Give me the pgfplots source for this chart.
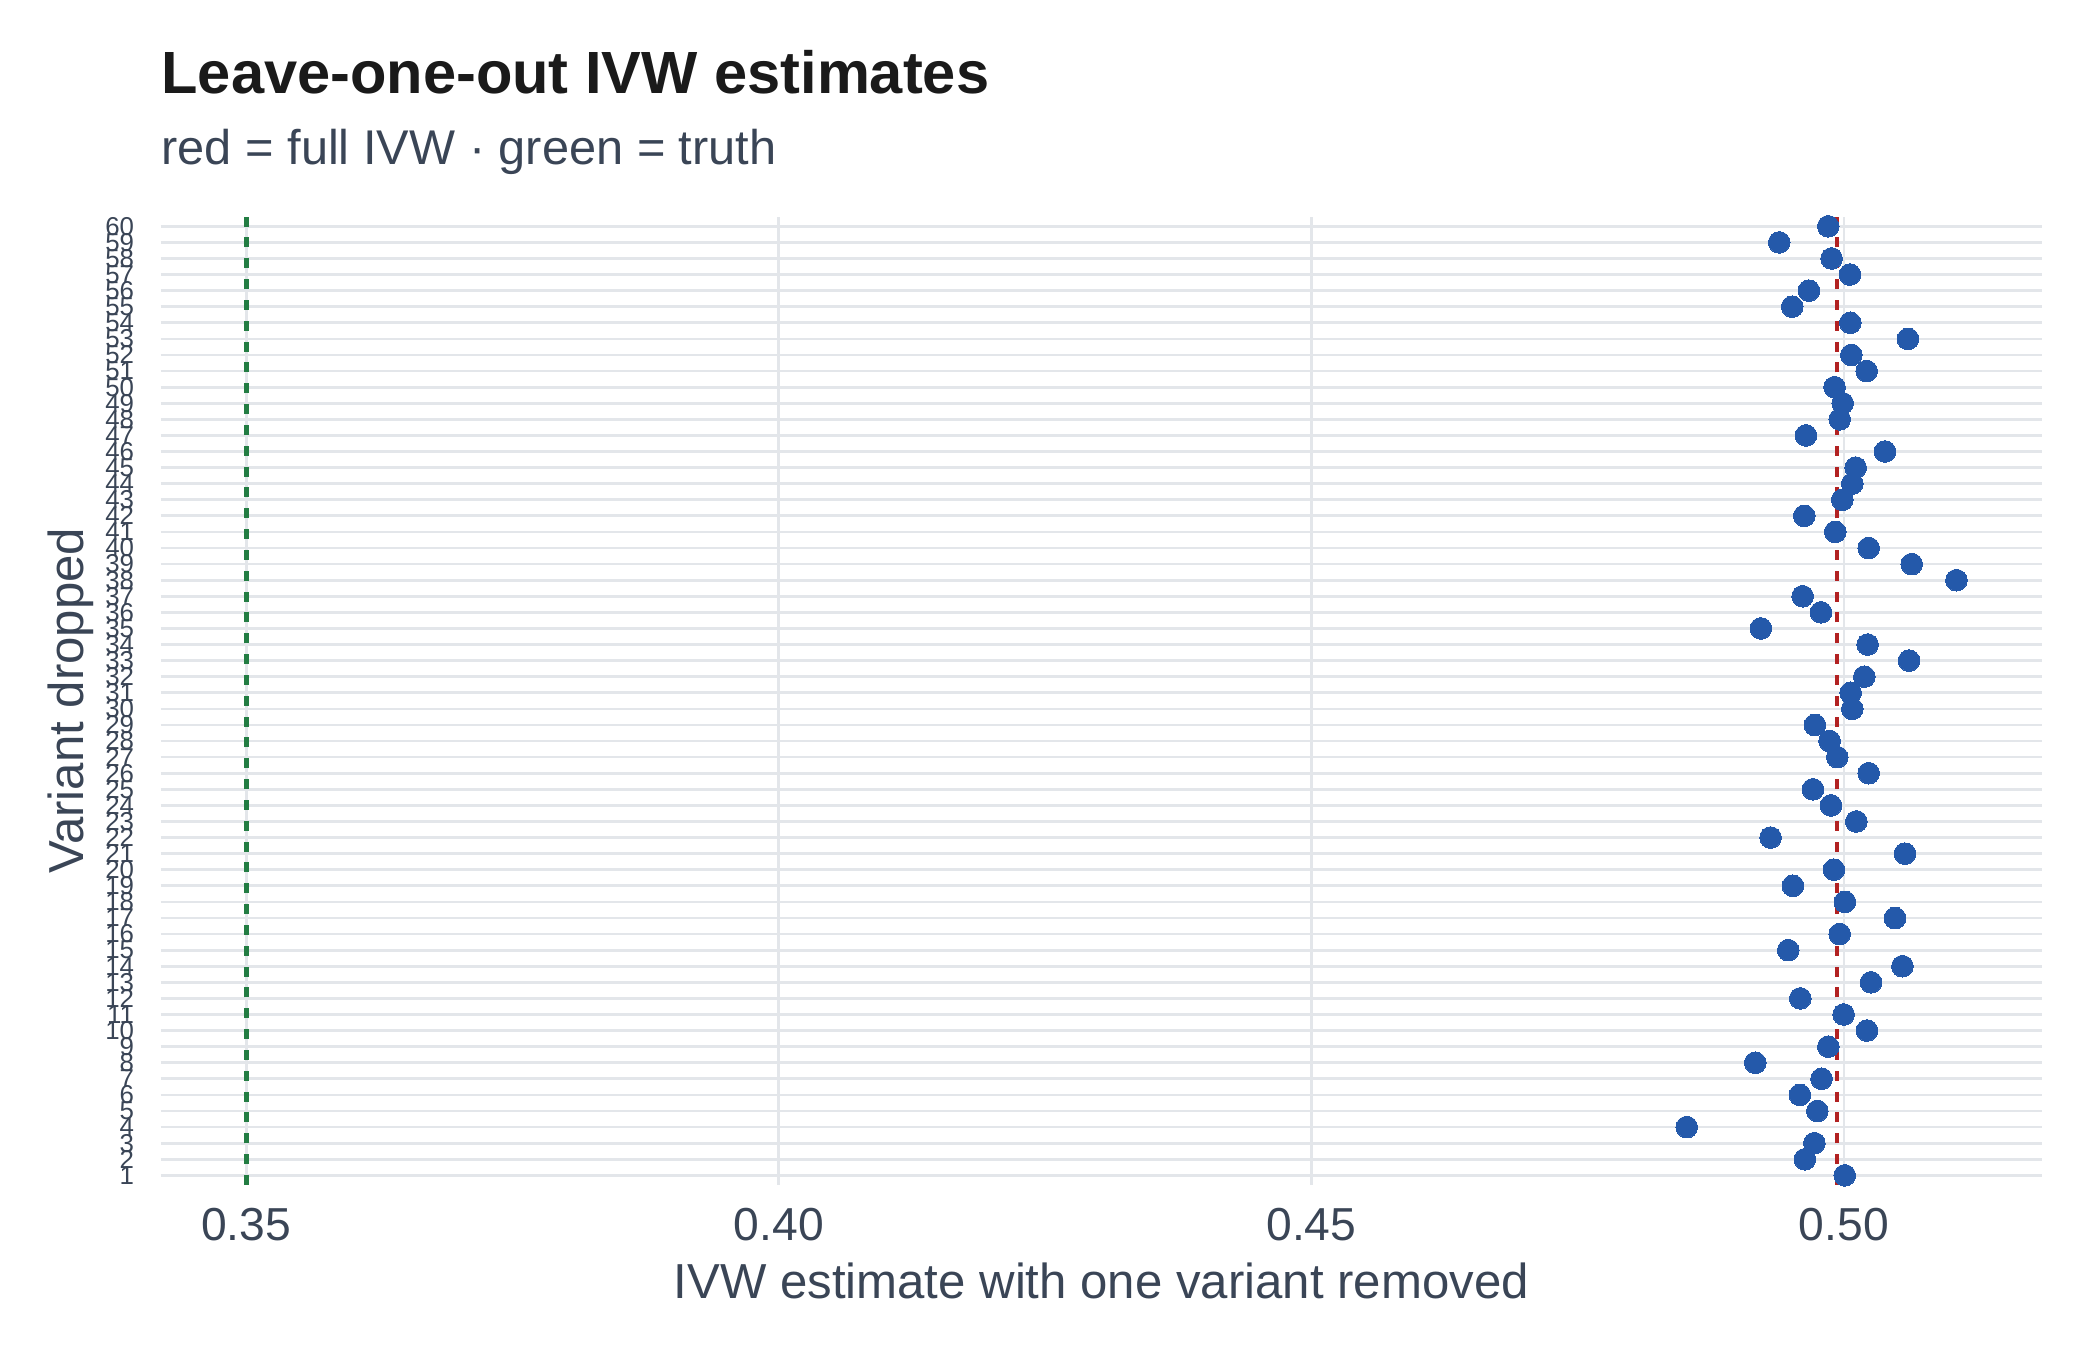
\documentclass[border=0pt]{standalone}
\usepackage{fontspec}
\setmainfont{Liberation Sans}
\usepackage{pgfplots}
\usepackage{pgfplotstable}
\pgfplotsset{compat=1.18}
\definecolor{txt}{HTML}{3A4556}
\definecolor{ttl}{HTML}{1A1A1A}
\definecolor{grd}{HTML}{E3E6EA}
\definecolor{dotc}{HTML}{2459AA}
\definecolor{fullivw}{HTML}{B22222}
\definecolor{truth}{HTML}{237D43}

\pgfplotstableread{
v est
1 0.50007
2 0.49633
3 0.49722
4 0.48524
5 0.49750
6 0.49586
7 0.49790
8 0.49167
9 0.49853
10 0.50216
11 0.49997
12 0.49590
13 0.50254
14 0.50549
15 0.49477
16 0.49960
17 0.50479
18 0.50009
19 0.49521
20 0.49906
21 0.50573
22 0.49311
23 0.50116
24 0.49878
25 0.49709
26 0.50232
27 0.49937
28 0.49865
29 0.49727
30 0.50078
31 0.50063
32 0.50191
33 0.50611
34 0.50222
35 0.49220
36 0.49784
37 0.49612
38 0.51056
39 0.50636
40 0.50232
41 0.49918
42 0.49627
43 0.49984
44 0.50078
45 0.50110
46 0.50385
47 0.49643
48 0.49960
49 0.49988
50 0.49912
51 0.50213
52 0.50069
53 0.50601
54 0.50059
55 0.49514
56 0.49671
57 0.50056
58 0.49884
59 0.49392
60 0.49853
}\loo

\begin{document}
\begin{tikzpicture}
\path[use as bounding box] (0,0) rectangle (504pt,324pt);
\begin{axis}[
  at={(38.57pt,39.6pt)}, anchor=south west,
  scale only axis, width=451.5pt, height=232.4pt,
  xmin=0.34197, xmax=0.51859, ymin=0.4, ymax=60.6,
  axis line style={draw=none},
  major tick length=0pt,
  /pgf/number format/assume math mode=true,
  xtick={0.35,0.40,0.45,0.50},
  xticklabels={0.35,0.40,0.45,0.50},
  ytick={1,...,60},
  grid=major,
  major grid style={draw=grd, line width=0.65pt},
  x tick label style={font=\fontsize{11.1}{13}\selectfont, text=txt, anchor=base, inner sep=0pt, yshift=-13.4pt},
  y tick label style={font=\fontsize{6.2}{7}\selectfont, text=txt, anchor=east, inner sep=0pt, xshift=-6.2pt},
  clip=false,
]
\addplot[truth, line width=1.1pt, dash pattern=on 2.4pt off 2.6pt] coordinates {(0.35,0.4) (0.35,60.6)};
\addplot[fullivw, line width=1.0pt, dash pattern=on 2.4pt off 2.6pt] coordinates {(0.49931,0.4) (0.49931,60.6)};
\addplot[only marks, color=dotc, mark=*, mark size=2.6pt, mark options={fill=dotc, draw=dotc, line width=0pt}] table[x=est, y=v] {\loo};
\end{axis}
\node[anchor=base west, inner sep=0pt, text=ttl] at (38.57pt,301.6pt) {\fontsize{14.3}{17}\selectfont\bfseries Leave-one-out IVW estimates};
\node[anchor=base west, inner sep=0pt, text=txt] at (38.57pt,284.4pt) {\fontsize{11.7}{14}\selectfont red = full IVW · green = truth};
\node[anchor=base, inner sep=0pt, text=txt] at (264.3pt,12.4pt) {\fontsize{11.8}{14}\selectfont IVW estimate with one variant removed};
\node[anchor=base, rotate=90, inner sep=0pt, text=txt] at (20pt,155.8pt) {\fontsize{11.8}{14}\selectfont Variant dropped};
\end{tikzpicture}
\end{document}
